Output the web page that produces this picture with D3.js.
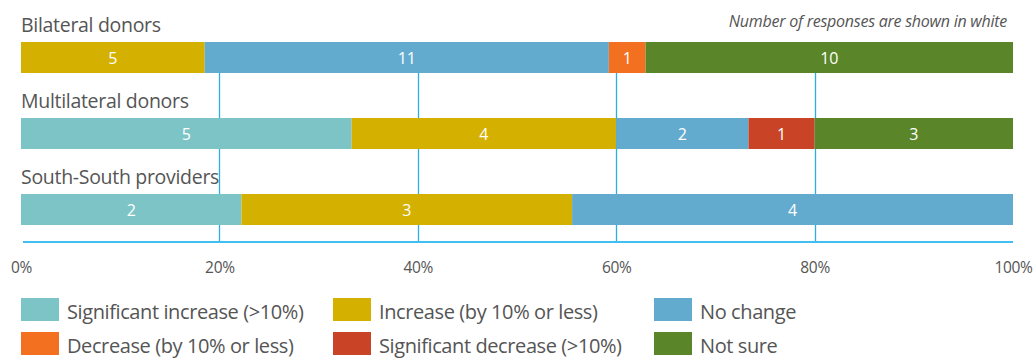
<!DOCTYPE html>
<html>
<head>
<meta charset="utf-8">
<script src="https://cdn.jsdelivr.net/npm/d3@7"></script>
<style>
  html, body { margin: 0; padding: 0; background: #fff; }
  svg { display: block; font-family: "Open Sans", "Noto Sans", sans-serif; }
</style>
</head>
<body>
<svg id="chart" width="1035" height="358"></svg>
<script>
// Donor groups and the response categories stacked in each bar
const groups = ["Bilateral donors", "Multilateral donors", "South-South providers"];
const categories = [
  "Significant increase (>10%)",
  "Increase (by 10% or less)",
  "No change",
  "Decrease (by 10% or less)",
  "Significant decrease (>10%)",
  "Not sure"
];
const colors = ["#7dc4c7", "#d4b000", "#62abcf", "#f37021", "#c94326", "#5a8629"];

// Number of responses per category, one array per group (order as categories)
const bilateral    = [0, 5, 11, 1, 0, 10];
const multilateral = [5, 4, 2, 0, 1, 3];
const southSouth   = [2, 3, 4, 0, 0, 0];

// Legend order (two rows of three)
const legendOrder = [
  "Significant increase (>10%)", "Increase (by 10% or less)", "No change",
  "Decrease (by 10% or less)", "Significant decrease (>10%)", "Not sure"
];

const tickValues = [0, 0.2, 0.4, 0.6, 0.8, 1];
const note = "Number of responses are shown in white";

const counts = [bilateral, multilateral, southSouth];

const svg = d3.select("#chart");

const x = d3.scaleLinear().domain([0, 1]).range([21, 1013]);
const y = d3.scaleBand().domain(groups).range([42, 270]).paddingInner(0).paddingOuter(0);
const barH = 31;

const color = d3.scaleOrdinal().domain(categories).range(colors);

// Grid lines behind bars
const gridTop = 42, axisY = 242;
svg.append("g")
  .selectAll("line")
  .data(tickValues.filter(d => d > 0 && d < 1))
  .join("line")
  .attr("x1", d => Math.round(x(d)) + 0.5)
  .attr("x2", d => Math.round(x(d)) + 0.5)
  .attr("y1", gridTop)
  .attr("y2", axisY)
  .attr("stroke", "#2aaee3")
  .attr("stroke-width", 1.3);

// Bottom axis
const axis = d3.axisBottom(x)
  .tickValues(tickValues)
  .tickFormat(d3.format(".0%"))
  .tickSize(0)
  .tickPadding(20);

const axisG = svg.append("g")
  .attr("transform", `translate(0,${axisY})`)
  .call(axis);
axisG.select(".domain")
  .attr("d", `M${x(0) + 2},0H${x(1)}`)
  .attr("stroke", "#3fc0ef")
  .attr("stroke-width", 2);
axisG.selectAll("text")
  .attr("fill", "#555")
  .style("font-size", "15.5px")
  .style("letter-spacing", "-0.3px")
  .style("font-family", "'Open Sans', sans-serif");

// Stacked bars
groups.forEach((g, gi) => {
  const vals = counts[gi];
  const total = d3.sum(vals);
  let acc = 0;
  const segs = vals.map((v, ci) => {
    const s = { cat: categories[ci], v, x0: acc / total, x1: (acc + v) / total };
    acc += v;
    return s;
  }).filter(s => s.v > 0);

  const top = y(g);

  svg.append("text")
    .attr("x", 21)
    .attr("y", top - 10)
    .attr("fill", "#555")
    .style("font-size", "19.5px")
    .style("letter-spacing", "-0.3px")
    .text(g);

  const row = svg.append("g");
  row.selectAll("rect")
    .data(segs)
    .join("rect")
    .attr("x", d => x(d.x0))
    .attr("width", d => x(d.x1) - x(d.x0))
    .attr("y", top)
    .attr("height", barH)
    .attr("fill", d => color(d.cat));

  row.selectAll("text")
    .data(segs)
    .join("text")
    .attr("x", d => (x(d.x0) + x(d.x1)) / 2)
    .attr("y", top + barH / 2 + 6)
    .attr("text-anchor", "middle")
    .attr("fill", "#fff")
    .style("font-size", "16px")
    .text(d => d.v);
});

// Note at top right
svg.append("text")
  .attr("x", 1007)
  .attr("y", 27)
  .attr("text-anchor", "end")
  .attr("fill", "#555")
  .style("font-size", "16px")
  .style("font-style", "italic")
  .style("letter-spacing", "-0.25px")
  .text(note);

// Legend
const legCols = [21, 333, 654];
const legRows = [298, 332];
const legend = svg.append("g")
  .selectAll("g")
  .data(legendOrder)
  .join("g")
  .attr("transform", (d, i) => `translate(${legCols[i % 3]},${legRows[Math.floor(i / 3)]})`);
legend.append("rect")
  .attr("width", 38)
  .attr("height", 23)
  .attr("fill", d => color(d));
legend.append("text")
  .attr("x", 46)
  .attr("y", 21)
  .attr("fill", "#555")
  .style("font-size", "20px")
  .style("letter-spacing", "-0.4px")
  .text(d => d);
</script>
</body>
</html>
